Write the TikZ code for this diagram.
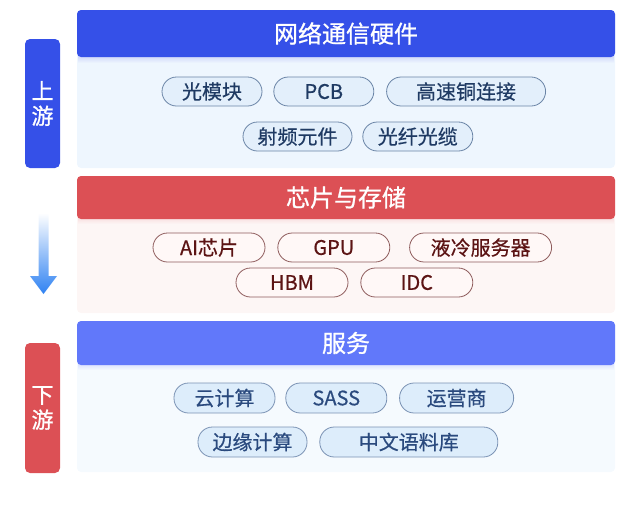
\documentclass[tikz,border=0pt]{standalone}
\usepackage{fontspec}
\setmainfont{Noto Sans CJK SC}
\newfontfamily\headfont[FakeBold=0.9]{Noto Sans CJK SC}
\newfontfamily\pillfont[FakeBold=0.5]{Noto Sans CJK SC}
\usetikzlibrary{positioning}
\definecolor{hdrblue}{HTML}{3550E8}
\definecolor{hdrred}{HTML}{DC5055}
\definecolor{hdrsky}{HTML}{6178FA}
\definecolor{bodyblue}{HTML}{EEF6FE}
\definecolor{bodyred}{HTML}{FDF6F5}
\definecolor{bodysky}{HTML}{F5FAFE}
\definecolor{arrowblue}{HTML}{2F82F2}
\definecolor{blueline}{HTML}{6A84A6}
\definecolor{bluefill}{HTML}{E3EFFB}
\definecolor{bluetext}{HTML}{1F3A63}
\definecolor{redline}{HTML}{8E5C5C}
\definecolor{redfill}{HTML}{FFF8F7}
\definecolor{redtext}{HTML}{5C1414}
\definecolor{skyline}{HTML}{7A92B4}
\definecolor{skyfill}{HTML}{DDEDFB}
\definecolor{skytext}{HTML}{2A4A7E}
\tikzset{
    %Define style for section headers
    head/.style={
           rectangle,
           rounded corners=4pt,
           text=white,
           minimum width=538pt,
           font=\headfont\fontsize{24}{24}\selectfont},
    %Define style for the side labels
    side/.style={
           rectangle,
           rounded corners=5pt,
           text=white,
           minimum width=35pt,
           align=center,
           font=\headfont\fontsize{22}{25}\selectfont},
    % Define style for item pills
    pill/.style={
           rectangle,
           rounded corners=14.5pt,
           draw,
           line width=0.8pt,
           inner sep=0pt,
           minimum height=29pt,
           font=\pillfont\fontsize{20}{20}\selectfont},
    bluepill/.style={pill, draw=blueline, fill=bluefill, text=bluetext},
    redpill/.style={pill, draw=redline, fill=redfill, text=redtext},
    skypill/.style={pill, draw=skyline, fill=skyfill, text=skytext,
           minimum height=30pt},
}

\begin{document}
\begin{tikzpicture}[x=1pt, y=-1pt, node distance=11pt]
  \useasboundingbox (0,0) rectangle (640,504);
  % section backgrounds
  \fill[bodyblue, rounded corners=4pt] (77,10) rectangle (615,168);
  \fill[bodyred, rounded corners=4pt] (77,176) rectangle (615,313);
  \fill[bodysky, rounded corners=4pt] (77,321) rectangle (615,472);
  \shade[top color=hdrblue!25, bottom color=bodyblue] (78,55) rectangle (614,63);
  \shade[top color=hdrred!20, bottom color=bodyred] (78,217) rectangle (614,224);
  \shade[top color=hdrsky!25, bottom color=bodysky] (78,363) rectangle (614,370);

  % headers
  \node[head, fill=hdrblue, minimum height=47pt] (hw) at (346,33.5) {网络通信硬件};
  \node[head, fill=hdrred, minimum height=43pt] (chip) at (346,197.5) {芯片与存储};
  \node[head, fill=hdrsky, minimum height=44pt] (svc) at (346,343) {服务};

  % side labels
  \node[side, fill=hdrblue, minimum height=129pt] (up) at (42.5,103.5) {上\\游};
  \node[side, fill=hdrred, minimum height=130pt] (down) at (42.5,408) {下\\游};
  \shade[top color=white, bottom color=arrowblue]
    (38.5,213) -- (48.5,213) -- (48.5,276) -- (57,276) -- (43.5,294)
    -- (30,276) -- (38.5,276) -- cycle;

  % network hardware
  \node[bluepill, minimum width=100pt] (optmod) at (212,91.5) {光模块};
  \node[bluepill, minimum width=100pt, right=of optmod] (pcb) {PCB};
  \node[bluepill, minimum width=159pt, right=12pt of pcb] (copper) {高速铜连接};
  \node[bluepill, minimum width=109pt] (rf) at (297.5,136.5) {射频元件};
  \node[bluepill, minimum width=110pt, right=10pt of rf] (fiber) {光纤光缆};

  % chips and storage
  \node[redpill, minimum width=112pt] (aichip) at (209,247.5) {AI芯片};
  \node[redpill, minimum width=112pt, right=12pt of aichip] (gpu) {GPU};
  \node[redpill, minimum width=142pt, right=19pt of gpu] (cool) {液冷服务器};
  \node[redpill, minimum width=112pt] (hbm) at (292,282.5) {HBM};
  \node[redpill, minimum width=112pt, right=12pt of hbm] (idc) {IDC};

  % services
  \node[skypill, minimum width=101pt] (cloud) at (224.5,398) {云计算};
  \node[skypill, minimum width=101pt, right=10pt of cloud] (sass) {SASS};
  \node[skypill, minimum width=114pt, right=12pt of sass] (carrier) {运营商};
  \node[skypill, minimum width=109pt] (edge) at (252.5,442) {边缘计算};
  \node[skypill, minimum width=178pt, right=12pt of edge] (corpus) {中文语料库};
\end{tikzpicture}
\end{document}
